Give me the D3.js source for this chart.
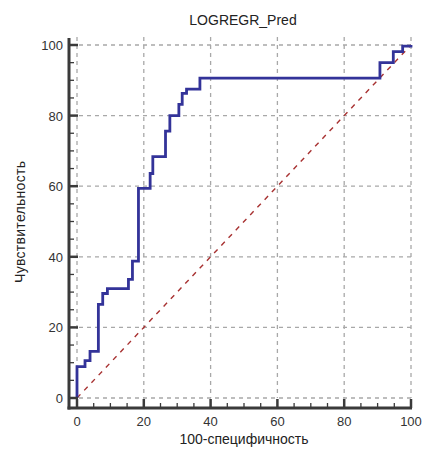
<!DOCTYPE html>
<html><head><meta charset="utf-8">
<script src="https://cdn.jsdelivr.net/npm/d3@7"></script>
<style>body{margin:0;background:#fff}svg{display:block}</style>
</head><body>
<svg id="c" width="424" height="450"></svg>
<script>
// ROC step curve: at fpr[i] the sensitivity rises to tpr[i]
const fpr = [0, 0, 2.4, 3.9, 6.4, 7.7, 9.1, 15.4, 16.6, 18.4, 21.9, 22.7, 26.5, 27.8, 30.5, 31.5, 32.8, 36.8, 90.7, 94.7, 97.5, 100];
const tpr = [0, 8.9, 10.6, 13.2, 26.5, 29.6, 31.0, 33.6, 38.8, 59.4, 63.6, 68.4, 75.6, 80.0, 83.2, 86.3, 87.5, 90.6, 95.0, 98.1, 99.7, 100];
const tickValues = [0, 20, 40, 60, 80, 100];
const minorTicks = [5,10,15,25,30,35,45,50,55,65,70,75,85,90,95];
const title = "LOGREGR_Pred";
const xTitle = "100-специфичность";
const yTitle = "Чувствительность";

const svg = d3.select("#c");
const x = d3.scaleLinear().domain([0,100]).range([77,411]);
const y = d3.scaleLinear().domain([0,100]).range([398,45]);
const axX = 69, axY = 408;
const font = "'Liberation Sans', Arial, sans-serif";

// grid
const g = svg.append("g");
g.selectAll("line.v").data(tickValues).join("line")
  .attr("x1", d=>x(d)).attr("x2", d=>x(d)).attr("y1", 37).attr("y2", y(0))
  .attr("stroke", "#a8a8a8").attr("stroke-width", 1.3).attr("stroke-dasharray", "4,4");
g.selectAll("line.h").data(tickValues).join("line")
  .attr("y1", d=>y(d)).attr("y2", d=>y(d)).attr("x1", axX+2).attr("x2", 414)
  .attr("stroke", "#a8a8a8").attr("stroke-width", 1.3).attr("stroke-dasharray", "4,4");

// diagonal
svg.append("line").attr("x1", x(0)).attr("y1", y(0)).attr("x2", x(100)).attr("y2", y(100))
  .attr("stroke", "#a83232").attr("stroke-width", 1.4).attr("stroke-dasharray", "5,5.5");

// ROC curve
const pts = [];
fpr.forEach((f,i)=>{ pts.push([f, tpr[i]]); });
const line = d3.line().x(d=>x(d[0])).y(d=>y(d[1])).curve(d3.curveStepAfter);
svg.append("path").datum(pts).attr("d", line).attr("fill","none")
  .attr("stroke", "#333399").attr("stroke-width", 2.8);

// axes
const axColor = "#3a3a3a";
svg.append("line").attr("x1", axX).attr("x2", axX).attr("y1", 38).attr("y2", axY+1.5)
  .attr("stroke", axColor).attr("stroke-width", 3);
svg.append("line").attr("x1", axX-1.5).attr("x2", 412).attr("y1", axY).attr("y2", axY)
  .attr("stroke", axColor).attr("stroke-width", 3);
// x ticks (inward)
svg.selectAll("line.xt").data(tickValues).join("line")
  .attr("x1", d=>x(d)).attr("x2", d=>x(d)).attr("y1", axY).attr("y2", axY-9)
  .attr("stroke", axColor).attr("stroke-width", 2.5);
svg.selectAll("line.xm").data(minorTicks).join("line")
  .attr("x1", d=>x(d)).attr("x2", d=>x(d)).attr("y1", axY).attr("y2", axY-5)
  .attr("stroke", axColor).attr("stroke-width", 1.3);
svg.selectAll("line.yt").data(tickValues).join("line")
  .attr("y1", d=>y(d)).attr("y2", d=>y(d)).attr("x1", axX).attr("x2", axX+9)
  .attr("stroke", axColor).attr("stroke-width", 2.5);
svg.selectAll("line.ym").data(minorTicks).join("line")
  .attr("y1", d=>y(d)).attr("y2", d=>y(d)).attr("x1", axX).attr("x2", axX+5)
  .attr("stroke", axColor).attr("stroke-width", 1.3);

// tick labels
svg.selectAll("text.xl").data(tickValues).join("text")
  .attr("x", d=>x(d)).attr("y", 426).attr("text-anchor","middle")
  .attr("font-family", font).attr("font-size", 13).attr("fill","#333").text(d=>d);
svg.selectAll("text.yl").data(tickValues).join("text")
  .attr("x", 63).attr("y", d=>y(d)+5).attr("text-anchor","end")
  .attr("font-family", font).attr("font-size", 13).attr("fill","#333").text(d=>d);

// titles
svg.append("text").attr("x", 243).attr("y", 25).attr("text-anchor","middle")
  .attr("font-family", font).attr("font-size", 14).attr("fill","#222").text(title);
svg.append("text").attr("x", 244).attr("y", 444).attr("text-anchor","middle")
  .attr("font-family", font).attr("font-size", 14).attr("fill","#222").text(xTitle);
svg.append("text").attr("transform", "translate(25,222) rotate(-90)").attr("text-anchor","middle")
  .attr("font-family", "'Liberation Sans Narrow', 'Liberation Sans', Arial, sans-serif")
  .attr("font-size", 14).attr("fill","#222")
  .attr("textLength", 122).attr("lengthAdjust", "spacing").text(yTitle);
</script>
</body></html>
